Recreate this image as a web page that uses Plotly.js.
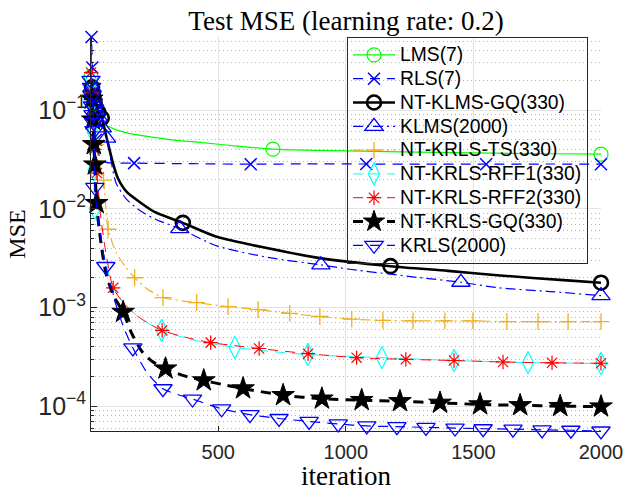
<!DOCTYPE html>
<html>
<head>
<meta charset="utf-8">
<script src="https://cdn.plot.ly/plotly-3.0.1.min.js"></script>
<style>
  html, body { margin: 0; padding: 0; background: #fff; }
  #chart { width: 626px; height: 491px; }
  /* legend labels: larger glyphs on the compact legend row pitch */
  .legendtext { font-size: 19.3px !important; }
</style>
</head>
<body>
<div id="chart"></div>
<script>
// Test MSE curves per algorithm: iteration, MSE value, and the iterations carrying a marker.
const iterLMS = [1, 5, 10, 20, 30, 47, 70, 100, 150, 200, 270, 350, 430, 584, 714, 900, 1212, 1500, 1800, 2000];
const mseLMS  = [0.22, 0.15, 0.115, 0.092, 0.082, 0.075, 0.068, 0.063, 0.058, 0.055, 0.052, 0.049, 0.047, 0.0428, 0.0402, 0.0390, 0.0377, 0.0368, 0.0361, 0.0357];
const markLMS = [1, 5, 10, 20, 714, 2000];

const iterRLS = [1, 3, 6, 10, 15, 20, 30, 45, 60, 170, 400, 627, 850, 1080, 1300, 1550, 1800, 2000];
const mseRLS  = [0.2, 0.55, 0.27, 0.15, 0.08, 0.05, 0.036, 0.031, 0.0295, 0.029, 0.0286, 0.0283, 0.0285, 0.0284, 0.0283, 0.0283, 0.0284, 0.0283];
const markRLS = [3, 6, 10, 15, 20, 170, 627, 1080, 1550, 2000];

const iterKLMSGQ = [1, 5, 10, 15, 20, 30, 43, 61, 87, 106, 141, 200, 250, 361, 494, 690, 886, 1175, 1400, 1604, 1867, 2000];
const mseKLMSGQ  = [0.21, 0.17, 0.14, 0.12, 0.105, 0.095, 0.083, 0.054, 0.029, 0.0205, 0.0148, 0.0113, 0.0093, 0.0072, 0.0052, 0.0040, 0.0032, 0.00262, 0.00235, 0.00211, 0.00188, 0.00178];
const markKLMSGQ = [5, 10, 15, 20, 30, 43, 361, 1175, 2000];

const iterKLMS = [1, 5, 10, 15, 20, 30, 45, 62, 80, 100, 140, 200, 260, 349, 494, 700, 902, 1016, 1278, 1451, 1600, 1800, 2000];
const mseKLMS  = [0.2, 0.17, 0.14, 0.12, 0.1, 0.085, 0.066, 0.052, 0.03, 0.018, 0.0125, 0.0093, 0.0077, 0.0063, 0.0042, 0.0032, 0.0027, 0.00244, 0.00202, 0.0018, 0.00158, 0.00145, 0.00132];
const markKLMS = [5, 10, 15, 20, 30, 45, 62, 349, 902, 1451, 2000];

const iterKRLSTS = [1, 5, 10, 20, 35, 50, 68, 100, 135, 172, 220, 283, 415, 538, 656, 780, 898, 1023, 1145, 1263, 1388, 1498, 1631, 1753, 1871, 2000];
const mseKRLSTS  = [0.2, 0.12, 0.08, 0.045, 0.028, 0.0195, 0.0062, 0.0036, 0.0026, 0.002, 0.00155, 0.00126, 0.00112, 0.00102, 0.00095, 0.00087, 0.00081, 0.00076, 0.00074, 0.00073, 0.00073, 0.00073, 0.00072, 0.00072, 0.00072, 0.00072];
const markKRLSTS = [10, 20, 50, 68, 172, 283, 415, 538, 656, 780, 898, 1023, 1145, 1263, 1388, 1498, 1631, 1753, 1871, 2000];

const iterRFF1 = [1, 4, 8, 12, 16, 30, 50, 88, 130, 180, 230, 278, 400, 565, 700, 851, 1000, 1141, 1300, 1424, 1560, 1714, 1850, 2000];
const mseRFF1  = [0.2, 0.12, 0.06, 0.025, 0.0101, 0.0065, 0.0035, 0.0016, 0.0011, 0.00083, 0.00068, 0.000585, 0.00047, 0.000393, 0.00036, 0.000333, 0.00032, 0.00031, 0.000298, 0.00029, 0.000283, 0.000276, 0.000273, 0.00027];
const markRFF1 = [1, 4, 8, 12, 16, 278, 565, 851, 1141, 1424, 1714, 2000];

const iterRFF2 = [1, 4, 8, 14, 24, 40, 60, 88, 130, 180, 230, 280, 370, 470, 565, 660, 852, 1042, 1235, 1424, 1616, 1808, 2000];
const mseRFF2  = [0.24, 0.15, 0.08, 0.04, 0.023, 0.008, 0.0035, 0.00158, 0.0011, 0.00083, 0.00068, 0.000585, 0.0005, 0.00044, 0.00041, 0.000384, 0.00034, 0.00031, 0.000298, 0.00029, 0.00028, 0.000275, 0.000272];
const markRFF2 = [1, 4, 8, 14, 24, 88, 280, 470, 660, 852, 1042, 1235, 1424, 1616, 1808, 2000];

const iterKRLSGQ = [1, 4, 8, 12, 16, 23, 40, 60, 90, 127, 160, 200, 240, 293, 360, 443, 520, 597, 754, 906, 1062, 1212, 1369, 1526, 1683, 1840, 2000];
const mseKRLSGQ  = [0.2, 0.13, 0.08, 0.045, 0.028, 0.0114, 0.0045, 0.0022, 0.0013, 0.0009, 0.00055, 0.00036, 0.000285, 0.00024, 0.000205, 0.000182, 0.000165, 0.000151, 0.000129, 0.000119, 0.000115, 0.000112, 0.000108, 0.000104, 0.000102, 0.0001, 0.000099];
const markKRLSGQ = [4, 8, 12, 16, 23, 127, 293, 443, 597, 754, 906, 1062, 1212, 1369, 1526, 1683, 1840, 2000];

const iterKRLS = [1, 3, 5, 7, 9, 11, 13, 16, 30, 45, 59, 94, 130, 165, 220, 283, 399, 513, 624, 738, 856, 970, 1082, 1200, 1314, 1428, 1538, 1655, 1769, 1882, 2000];
const mseKRLS  = [0.2, 0.17, 0.14, 0.11, 0.09, 0.075, 0.062, 0.0165, 0.0075, 0.0042, 0.0026, 0.00117, 0.00062, 0.00039, 0.00022, 0.00015, 0.000118, 0.000094, 0.000082, 0.000075, 0.00007, 0.000066, 0.000063, 0.000062, 0.000061, 0.00006, 0.000059, 0.0000585, 0.0000575, 0.000057, 0.000056];
const markKRLS = [1, 3, 5, 7, 9, 11, 13, 16, 59, 165, 283, 399, 513, 624, 738, 856, 970, 1082, 1200, 1314, 1428, 1538, 1655, 1769, 1882, 2000];

const seriesNames = ['LMS(7)', 'RLS(7)', 'NT-KLMS-GQ(330)', 'KLMS(2000)', 'NT-KRLS-TS(330)',
                     'NT-KRLS-RFF1(330)', 'NT-KRLS-RFF2(330)', 'NT-KRLS-GQ(330)', 'KRLS(2000)'];

const series = [
  { x: iterLMS,    y: mseLMS,    m: markLMS,
    line: { color: '#00ff00', width: 1.2, dash: 'solid' },
    marker: { symbol: 'circle-open', size: 14, color: '#00ff00', line: { width: 1.2 } } },
  { x: iterRLS,    y: mseRLS,    m: markRLS,
    line: { color: '#0000ff', width: 1.2, dash: '10px,7px' },
    marker: { symbol: 'x-thin-open', size: 12, color: '#0000ff', line: { width: 1.5 } } },
  { x: iterKLMSGQ, y: mseKLMSGQ, m: markKLMSGQ,
    line: { color: '#000000', width: 2.6, dash: 'solid' },
    marker: { symbol: 'circle-open', size: 14, color: '#000000', line: { width: 2.6 } } },
  { x: iterKLMS,   y: mseKLMS,   m: markKLMS,
    line: { color: '#0000ff', width: 1.2, dash: '10px,4px,2px,4px' },
    marker: { symbol: 'triangle-up-open', size: 16, color: '#0000ff', line: { width: 1.3 } } },
  { x: iterKRLSTS, y: mseKRLSTS, m: markKRLSTS,
    line: { color: '#edb120', width: 1.2, dash: '10px,4px,2px,4px' },
    marker: { symbol: 'cross-thin-open', size: 12, color: '#edb120', line: { width: 1.3 } } },
  { x: iterRFF1,   y: mseRFF1,   m: markRFF1,
    line: { color: '#00ffff', width: 1, dash: '10px,7px' },
    marker: { symbol: 'diamond-tall-open', size: 16, color: '#00ffff', line: { width: 1.2 } } },
  { x: iterRFF2,   y: mseRFF2,   m: markRFF2,
    line: { color: '#ff0000', width: 1, dash: '10px,7px' },
    marker: { symbol: 'asterisk-open', size: 12, color: '#ff0000', line: { width: 1.2 } } },
  { x: iterKRLSGQ, y: mseKRLSGQ, m: markKRLSGQ,
    line: { color: '#000000', width: 3, dash: '10px,7px' },
    marker: { symbol: 'star', size: 17, color: '#000000', line: { width: 1, color: '#000000' } } },
  { x: iterKRLS,   y: mseKRLS,   m: markKRLS,
    line: { color: '#0000ff', width: 1.2, dash: '10px,7px' },
    marker: { symbol: 'triangle-down-open', size: 16, color: '#0000ff', line: { width: 1.3 } } }
];

const traces = [];
series.forEach(function (s, i) {
  traces.push({
    x: s.x, y: s.y, mode: 'lines', type: 'scatter',
    line: Object.assign({ shape: 'spline', smoothing: 0.7 }, s.line),
    showlegend: false, hoverinfo: 'skip'
  });
  const mx = [], my = [];
  s.x.forEach(function (v, k) { if (s.m.indexOf(v) >= 0) { mx.push(v); my.push(s.y[k]); } });
  traces.push({
    x: mx, y: my, mode: 'markers', type: 'scatter', cliponaxis: false,
    marker: s.marker, showlegend: false, hoverinfo: 'skip'
  });
});
// legend entries (line + marker sample)
series.forEach(function (s, i) {
  traces.push({
    x: [null], y: [null], mode: 'lines+markers', type: 'scatter',
    name: seriesNames[i], line: s.line, marker: s.marker
  });
});

const allY = [].concat.apply([], series.map(function (s) { return s.y; }));
const allX = [].concat.apply([], series.map(function (s) { return s.x; }));
const yMin = Math.min.apply(null, allY), yMax = Math.max.apply(null, allY);
const xMin = Math.min.apply(null, allX), xMax = Math.max.apply(null, allX);

const axisGrey = '#262626';
const layout = {
  width: 626, height: 491,
  margin: { l: 91, r: 25, t: 37, b: 60 },
  paper_bgcolor: '#ffffff', plot_bgcolor: '#ffffff',
  showlegend: true,
  title: {
    text: 'Test MSE (learning rate: 0.2)',
    font: { family: 'Liberation Serif', size: 27, color: '#000000' },
    x: 0.5, xref: 'paper', y: 0.958, yref: 'container', yanchor: 'middle'
  },
  xaxis: {
    range: [xMin, xMax],
    tickvals: [500, 1000, 1500, 2000],
    ticks: 'inside', ticklen: 5, tickcolor: axisGrey,
    ticklabelstandoff: 3,
    showline: true, linecolor: axisGrey, linewidth: 1,
    showgrid: true, gridcolor: '#e3e3e3', zeroline: false,
    tickfont: { family: 'Liberation Sans', size: 20, color: axisGrey },
    title: { text: 'iteration', font: { family: 'Liberation Serif', size: 27, color: '#000000' }, standoff: 9 }
  },
  yaxis: {
    type: 'log',
    range: [Math.log10(yMin), Math.log10(yMax)],
    dtick: 1, exponentformat: 'power', showexponent: 'all',
    ticks: 'inside', ticklen: 6, tickcolor: axisGrey,
    showline: true, linecolor: axisGrey, linewidth: 1,
    showgrid: true, gridcolor: '#e3e3e3', zeroline: false,
    minor: { dtick: 'D1', ticks: 'inside', ticklen: 3, tickcolor: axisGrey,
             showgrid: true, gridcolor: '#b4b4b4', griddash: '1px,3px', gridwidth: 1 },
    tickfont: { family: 'Liberation Sans', size: 20, color: axisGrey },
    title: { text: 'MSE', font: { family: 'Liberation Serif', size: 24, color: '#000000' }, standoff: 5 }
  },
  legend: {
    x: 0.502, xanchor: 'left', y: 1, yanchor: 'top',
    bgcolor: 'rgba(255,255,255,0)', bordercolor: axisGrey, borderwidth: 1,
    font: { family: 'Liberation Sans', size: 16, color: '#000000' },
    itemwidth: 42, tracegroupgap: 0
  }
};

Plotly.newPlot('chart', traces, layout, { displayModeBar: false, staticPlot: true });
</script>
</body>
</html>
